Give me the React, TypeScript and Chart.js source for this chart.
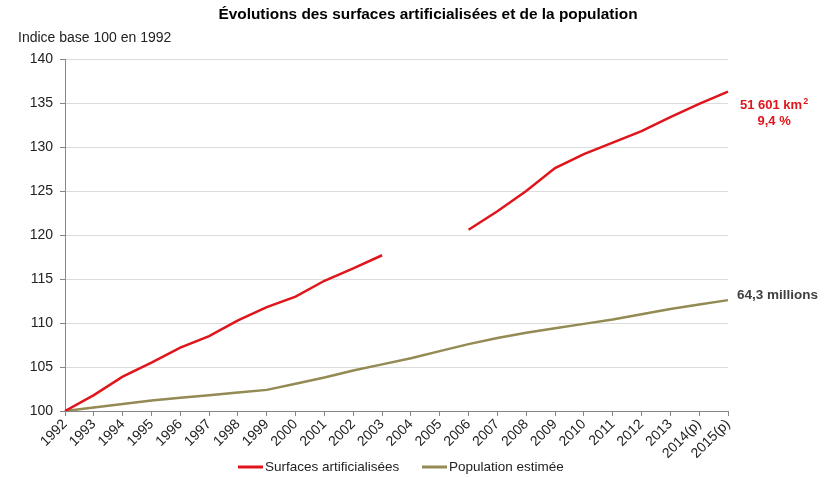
import React, { useEffect, useRef } from "react";
import { Chart, registerables } from "chart.js";

Chart.register(...registerables);

// Years on the horizontal axis (p = provisional)
const years = [
  "1992", "1993", "1994", "1995", "1996", "1997", "1998", "1999", "2000", "2001",
  "2002", "2003", "2004", "2005", "2006", "2007", "2008", "2009", "2010", "2011",
  "2012", "2013", "2014(p)", "2015(p)",
];

// Artificialised surfaces, index base 100 in 1992 (no survey in 2004-2005)
const surfaces: (number | null)[] = [
  100, 101.8, 103.9, 105.5, 107.2, 108.5, 110.3, 111.8, 113.0, 114.8,
  116.2, 117.7, null, null, 120.6, 122.7, 125.0, 127.6, 129.2, 130.5,
  131.8, 133.4, 134.9, 136.3,
];

// Estimated population, index base 100 in 1992
const population = [
  100, 100.4, 100.8, 101.2, 101.5, 101.8, 102.1, 102.4, 103.1, 103.8,
  104.6, 105.3, 106.0, 106.8, 107.6, 108.3, 108.9, 109.4, 109.9, 110.4,
  111.0, 111.6, 112.1, 112.6,
];

const yMin = 100;
const yMax = 140;
const yStep = 5;

const TITLE = "Évolutions des surfaces artificialisées et de la population";
const AXIS_NOTE = "Indice base 100 en 1992";
const SERIES_NAMES = ["Surfaces artificialisées", "Population estimée"];
const SURFACE_END_TEXT = "51 601 km";
const SURFACE_END_SUP = "2";
const SURFACE_END_SHARE = "9,4 %";
const POPULATION_END_TEXT = "64,3 millions";

const RED = "#e0151b";
const OLIVE = "#948a54";
const TEXT = "#404040";
const FONT = "'Liberation Sans', Arial, sans-serif";

const decorations = {
  id: "decorations",
  afterDraw(chart: Chart) {
    const { ctx, scales } = chart;
    const x = scales.x;
    const y = scales.y;
    ctx.save();

    // Title
    ctx.fillStyle = "#000";
    ctx.font = `bold 15.4px ${FONT}`;
    ctx.textAlign = "center";
    ctx.textBaseline = "middle";
    ctx.fillText(TITLE, 428, 15);

    // Axis note
    ctx.fillStyle = "#222";
    ctx.font = `14px ${FONT}`;
    ctx.textAlign = "left";
    ctx.fillText(AXIS_NOTE, 18, 38);

    // End-of-line labels
    const last = years.length - 1;
    const xEnd = x.getPixelForValue(last);
    const ySurf = y.getPixelForValue(surfaces[last] as number);
    const yPop = y.getPixelForValue(population[last]);

    ctx.font = `bold 13px ${FONT}`;
    ctx.fillStyle = RED;
    ctx.textAlign = "left";
    const mainW = ctx.measureText(SURFACE_END_TEXT).width;
    const lx = xEnd + 12;
    ctx.fillText(SURFACE_END_TEXT, lx, ySurf + 14);
    ctx.font = `bold 9px ${FONT}`;
    ctx.fillText(SURFACE_END_SUP, lx + mainW + 1, ySurf + 10);
    ctx.font = `bold 13px ${FONT}`;
    ctx.textAlign = "center";
    ctx.fillText(SURFACE_END_SHARE, lx + (mainW + 6) / 2, ySurf + 30);

    ctx.fillStyle = TEXT;
    ctx.textAlign = "left";
    ctx.font = `bold 13.5px ${FONT}`;
    ctx.fillText(POPULATION_END_TEXT, xEnd + 9, yPop - 5);

    // Legend
    const colors = [RED, OLIVE];
    const starts = [238, 422];
    ctx.font = `13.5px ${FONT}`;
    ctx.textAlign = "left";
    for (let i = 0; i < 2; i++) {
      ctx.strokeStyle = colors[i];
      ctx.lineWidth = 3;
      ctx.beginPath();
      ctx.moveTo(starts[i], 467);
      ctx.lineTo(starts[i] + 25, 467);
      ctx.stroke();
      ctx.fillStyle = "#222";
      ctx.fillText(SERIES_NAMES[i], starts[i] + 27, 467);
    }

    ctx.restore();
  },
};

export default function App() {
  const canvasRef = useRef<HTMLCanvasElement | null>(null);

  useEffect(() => {
    const canvas = canvasRef.current;
    if (!canvas) return;
    const chart = new Chart(canvas, {
      type: "line",
      data: {
        labels: years,
        datasets: [
          {
            label: SERIES_NAMES[0],
            data: surfaces,
            borderColor: RED,
            borderWidth: 2.5,
            pointRadius: 0,
            tension: 0,
            spanGaps: false,
          },
          {
            label: SERIES_NAMES[1],
            data: population,
            borderColor: OLIVE,
            borderWidth: 2.5,
            pointRadius: 0,
            tension: 0,
          },
        ],
      },
      options: {
        responsive: false,
        animation: false,
        layout: { padding: { left: 0, top: 59, right: 103, bottom: 0 } },
        plugins: {
          legend: { display: false },
          title: { display: false },
          tooltip: { enabled: false },
        },
        scales: {
          x: {
            type: "category",
            offset: false,
            grid: {
              drawOnChartArea: false,
              drawTicks: true,
              tickLength: 5,
              color: "#868686",
            },
            border: { color: "#868686", width: 1 },
            ticks: {
              autoSkip: false,
              maxRotation: 45,
              minRotation: 45,
              padding: 0,
              color: "#222",
              font: { family: FONT, size: 14 },
            },
            afterFit(scale: any) {
              scale.height = 66;
            },
          },
          y: {
            min: yMin,
            max: yMax,
            ticks: {
              stepSize: yStep,
              padding: 7,
              color: "#222",
              font: { family: FONT, size: 14 },
            },
            grid: {
              color: "#dcdcdc",
              tickLength: 5,
              tickColor: "#868686",
            },
            border: { color: "#868686", width: 1 },
            afterFit(scale: any) {
              scale.width = 65;
            },
          },
        },
      },
      plugins: [decorations],
    });
    return () => chart.destroy();
  }, []);

  return (
    <div style={{ position: "absolute", left: 0, top: 0, width: 831, height: 477, background: "#fff" }}>
      <canvas ref={canvasRef} width={831} height={477} />
    </div>
  );
}
